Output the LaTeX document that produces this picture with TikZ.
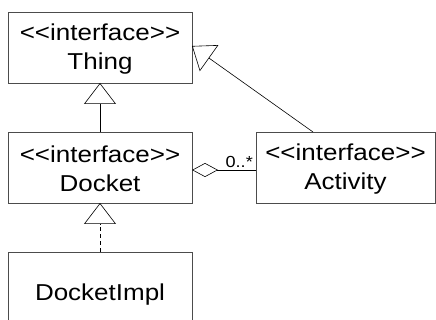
\documentclass[tikz,border=0pt]{standalone}
\usepackage{fontspec}
\setmainfont{Liberation Sans}[Ligatures=TeXOff, FakeStretch=1.13]
\usetikzlibrary{arrows.meta}
\begin{document}
\begin{tikzpicture}[x=1pt,y=-1pt,
  classbox/.style={draw=black!70, line width=0.9pt, fill=white},
  lbl/.style={font=\fontsize{23}{28.5}\selectfont, align=center, inner sep=0pt},
  mult/.style={font=\fontsize{16}{18}\selectfont, inner sep=0pt},
  realize/.style={-{Triangle[open, length=21pt, width=32pt]}, line width=0.6pt},
  aggr/.style={{Diamond[open, length=26pt, width=14pt]}-, line width=0.6pt}]
  \useasboundingbox (0,0) rectangle (436,320);
  % class boxes
  \draw[classbox] (8,12) rectangle (192,83);
  \node[lbl] (thing) at (100,49) {<<interface>>\\Thing};
  \draw[classbox] (8,132) rectangle (192,203);
  \node[lbl] (docket) at (100,169) {<<interface>>\\Docket};
  \draw[classbox] (256,132) rectangle (435,203);
  \node[lbl] (activity) at (345.5,169) {<<interface>>\\Activity};
  \draw[classbox] (8,252) -- (8,330) -- (192,330) -- (192,252) -- cycle;
  \node[lbl] (impl) at (100,295) {DocketImpl};
  % anchor points on the box borders
  \coordinate (thingS) at (100,83);
  \coordinate (thingE) at (192,46);
  \coordinate (docketN) at (100,132);
  \coordinate (docketS) at (100,203);
  \coordinate (docketE) at (192,170);
  \coordinate (implN) at (100,252);
  \coordinate (actN) at (313,132);
  \coordinate (actW) at (256,170);
  % connectors
  \draw[realize] (docketN) -- (thingS);
  \draw[realize, dashed, dash pattern=on 4pt off 3pt] (implN) -- (docketS);
  \draw[realize] (actN) -- (thingE);
  \draw[aggr] (docketE) -- (actW);
  \node[mult, anchor=south east] (m) at (253,168) {0..*};
\end{tikzpicture}
\end{document}
